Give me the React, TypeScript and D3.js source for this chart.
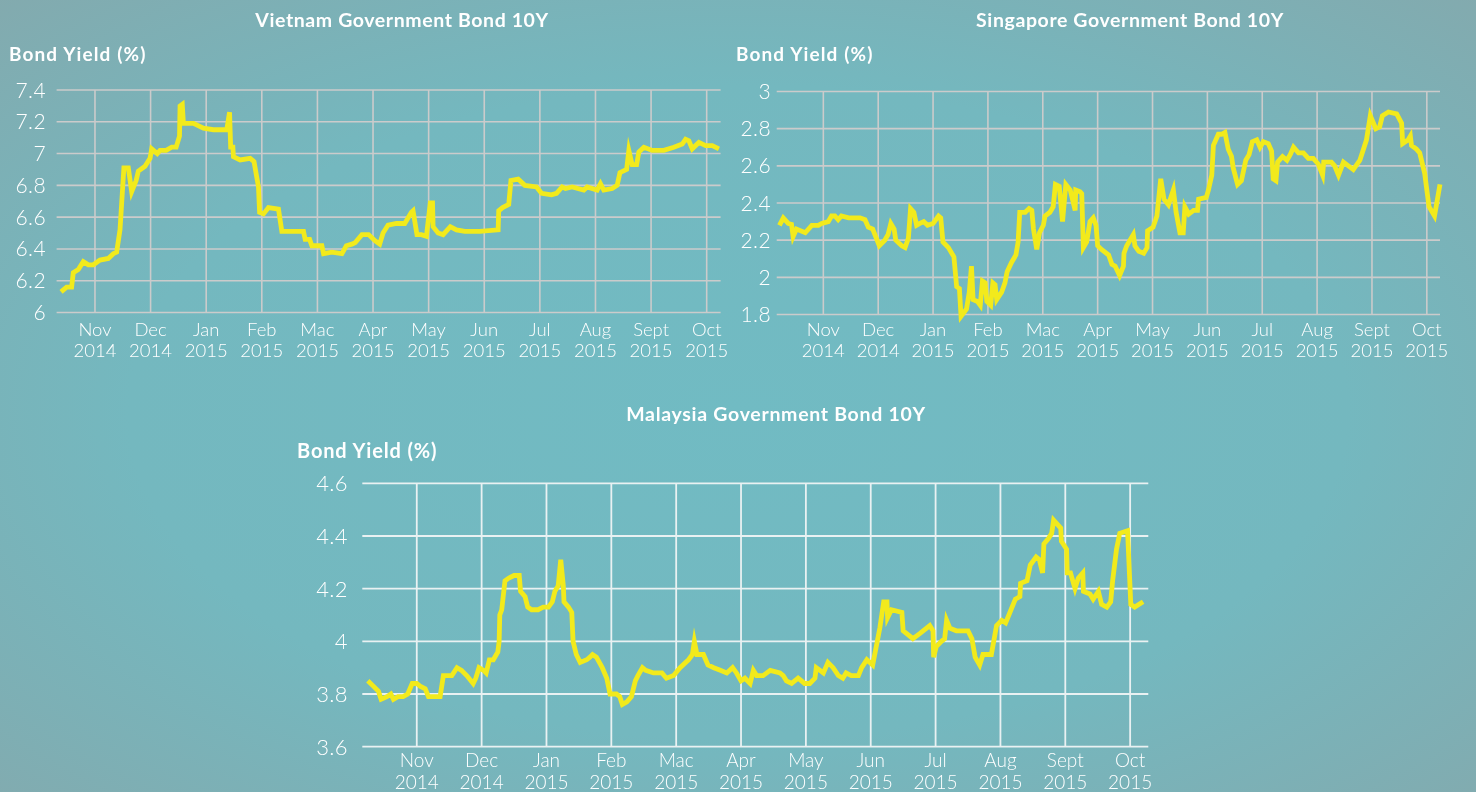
import React from "react";
import * as d3 from "d3";

// t = months since 1 Nov 2014 (Nov 2014 = 0, Dec 2014 = 1, ... Oct 2015 = 11)
const monthLabels = ["Nov", "Dec", "Jan", "Feb", "Mac", "Apr", "May", "Jun", "Jul", "Aug", "Sept", "Oct"];
const yearLabels = ["2014", "2014", "2015", "2015", "2015", "2015", "2015", "2015", "2015", "2015", "2015", "2015"];

const vietnamTicks = [6, 6.2, 6.4, 6.6, 6.8, 7, 7.2, 7.4];
const singaporeTicks = [1.8, 2, 2.2, 2.4, 2.6, 2.8, 3];
const malaysiaTicks = [3.6, 3.8, 4, 4.2, 4.4, 4.6];

const vietnamSeries: [number, number][] = [
  [-0.61, 6.13], [-0.51, 6.16], [-0.42, 6.16], [-0.39, 6.25], [-0.3, 6.27], [-0.21, 6.32], [-0.12, 6.3],
  [-0.03, 6.3], [0.09, 6.33], [0.24, 6.34], [0.33, 6.37], [0.39, 6.38], [0.45, 6.52], [0.52, 6.91],
  [0.6, 6.91], [0.66, 6.76], [0.74, 6.83], [0.78, 6.89], [0.9, 6.92], [0.99, 6.97], [1.02, 7.03],
  [1.12, 7.0], [1.17, 7.02], [1.28, 7.02], [1.38, 7.04], [1.46, 7.04], [1.52, 7.11], [1.53, 7.3],
  [1.57, 7.31], [1.59, 7.19], [1.77, 7.19], [1.95, 7.16], [2.13, 7.15], [2.37, 7.15], [2.42, 7.26],
  [2.44, 7.04], [2.48, 7.04], [2.49, 6.98], [2.61, 6.96], [2.79, 6.97], [2.86, 6.95], [2.94, 6.79],
  [2.96, 6.63], [3.03, 6.62], [3.12, 6.66], [3.3, 6.65], [3.36, 6.51], [3.75, 6.51], [3.78, 6.46],
  [3.86, 6.46], [3.9, 6.42], [4.08, 6.42], [4.11, 6.37], [4.26, 6.38], [4.44, 6.37], [4.52, 6.42],
  [4.62, 6.43], [4.68, 6.44], [4.8, 6.49], [4.92, 6.49], [5.04, 6.45], [5.12, 6.43], [5.18, 6.5],
  [5.27, 6.55], [5.42, 6.56], [5.57, 6.56], [5.69, 6.63], [5.72, 6.64], [5.79, 6.49], [5.87, 6.49],
  [5.96, 6.48], [6.03, 6.69], [6.07, 6.69], [6.08, 6.54], [6.17, 6.5], [6.26, 6.49], [6.39, 6.54],
  [6.5, 6.52], [6.65, 6.51], [6.92, 6.51], [7.25, 6.52], [7.26, 6.64], [7.33, 6.66], [7.44, 6.68],
  [7.48, 6.83], [7.61, 6.84], [7.73, 6.8], [7.94, 6.79], [8.03, 6.75], [8.21, 6.74], [8.3, 6.75],
  [8.4, 6.79], [8.46, 6.78], [8.58, 6.79], [8.79, 6.77], [8.85, 6.79], [9.03, 6.77], [9.09, 6.81],
  [9.15, 6.77], [9.3, 6.78], [9.39, 6.8], [9.44, 6.88], [9.56, 6.9], [9.6, 7.02], [9.66, 6.93],
  [9.74, 6.93], [9.78, 7.01], [9.87, 7.04], [10.02, 7.02], [10.23, 7.02], [10.41, 7.04], [10.56, 7.06],
  [10.62, 7.09], [10.68, 7.08], [10.74, 7.03], [10.86, 7.07], [10.98, 7.05], [11.1, 7.05], [11.22, 7.03],
];

const singaporeSeries: [number, number][] = [
  [-0.8, 2.28], [-0.73, 2.32], [-0.64, 2.29], [-0.58, 2.285], [-0.55, 2.22], [-0.49, 2.26], [-0.33, 2.24],
  [-0.21, 2.28], [-0.09, 2.28], [-0.03, 2.29], [0.09, 2.3], [0.15, 2.33], [0.21, 2.33], [0.27, 2.31],
  [0.33, 2.33], [0.46, 2.32], [0.67, 2.32], [0.76, 2.31], [0.82, 2.27], [0.9, 2.26], [1.02, 2.17],
  [1.12, 2.2], [1.18, 2.23], [1.23, 2.29], [1.29, 2.26], [1.32, 2.2], [1.43, 2.17], [1.49, 2.16],
  [1.55, 2.21], [1.59, 2.37], [1.65, 2.35], [1.7, 2.28], [1.76, 2.29], [1.83, 2.3], [1.9, 2.28],
  [2.0, 2.29], [2.1, 2.33], [2.14, 2.32], [2.18, 2.19], [2.28, 2.16], [2.38, 2.11], [2.43, 1.95],
  [2.48, 1.94], [2.51, 1.79], [2.61, 1.83], [2.66, 1.92], [2.7, 2.06], [2.73, 1.88], [2.81, 1.87],
  [2.86, 1.85], [2.9, 1.98], [2.95, 1.97], [2.98, 1.87], [3.05, 1.85], [3.09, 1.97], [3.13, 1.96],
  [3.16, 1.88], [3.25, 1.92], [3.31, 1.97], [3.35, 2.03], [3.43, 2.08], [3.51, 2.12], [3.55, 2.19],
  [3.58, 2.35], [3.68, 2.35], [3.75, 2.37], [3.8, 2.36], [3.83, 2.26], [3.89, 2.15], [3.94, 2.24],
  [4.01, 2.28], [4.04, 2.33], [4.13, 2.35], [4.19, 2.38], [4.23, 2.5], [4.3, 2.49], [4.36, 2.3],
  [4.42, 2.5], [4.5, 2.47], [4.59, 2.36], [4.6, 2.47], [4.68, 2.46], [4.71, 2.45], [4.74, 2.16],
  [4.8, 2.19], [4.86, 2.3], [4.92, 2.32], [4.97, 2.28], [5.0, 2.17], [5.07, 2.15], [5.2, 2.12],
  [5.26, 2.07], [5.32, 2.06], [5.4, 2.01], [5.47, 2.06], [5.48, 2.13], [5.53, 2.17], [5.65, 2.23],
  [5.68, 2.17], [5.75, 2.14], [5.84, 2.13], [5.9, 2.16], [5.91, 2.25], [6.01, 2.27], [6.08, 2.33],
  [6.15, 2.53], [6.21, 2.42], [6.29, 2.39], [6.38, 2.47], [6.43, 2.35], [6.5, 2.24], [6.56, 2.24],
  [6.59, 2.38], [6.66, 2.34], [6.75, 2.36], [6.82, 2.36], [6.84, 2.42], [6.98, 2.43], [7.02, 2.47],
  [7.08, 2.55], [7.11, 2.71], [7.2, 2.77], [7.26, 2.77], [7.32, 2.78], [7.38, 2.69], [7.44, 2.65],
  [7.47, 2.59], [7.55, 2.5], [7.62, 2.52], [7.7, 2.63], [7.76, 2.66], [7.82, 2.73], [7.9, 2.74],
  [7.96, 2.7], [8.02, 2.73], [8.11, 2.72], [8.17, 2.68], [8.2, 2.53], [8.25, 2.52], [8.28, 2.62],
  [8.37, 2.65], [8.45, 2.63], [8.51, 2.66], [8.57, 2.7], [8.66, 2.67], [8.75, 2.67], [8.84, 2.64],
  [8.93, 2.64], [9.02, 2.61], [9.1, 2.55], [9.12, 2.62], [9.26, 2.62], [9.32, 2.6], [9.39, 2.55],
  [9.48, 2.62], [9.57, 2.6], [9.66, 2.58], [9.78, 2.63], [9.9, 2.74], [9.97, 2.87], [10.07, 2.8],
  [10.14, 2.81], [10.19, 2.87], [10.3, 2.89], [10.45, 2.88], [10.54, 2.83], [10.56, 2.72], [10.66, 2.74],
  [10.7, 2.76], [10.72, 2.71], [10.81, 2.69], [10.87, 2.67], [10.96, 2.56], [11.04, 2.38], [11.14, 2.33],
  [11.24, 2.5],
];

const malaysiaSeries: [number, number][] = [
  [-0.755, 3.85], [-0.67, 3.83], [-0.59, 3.81], [-0.55, 3.78], [-0.46, 3.79], [-0.4, 3.8], [-0.36, 3.78],
  [-0.29, 3.79], [-0.21, 3.79], [-0.14, 3.8], [-0.07, 3.84], [0.0, 3.84], [0.05, 3.83], [0.13, 3.82],
  [0.18, 3.79], [0.28, 3.79], [0.36, 3.79], [0.41, 3.87], [0.49, 3.87], [0.54, 3.87], [0.62, 3.9],
  [0.69, 3.89], [0.77, 3.87], [0.87, 3.84], [0.91, 3.86], [0.96, 3.9], [1.03, 3.89], [1.07, 3.88],
  [1.12, 3.93], [1.18, 3.93], [1.25, 3.96], [1.27, 4.0], [1.28, 4.1], [1.31, 4.12], [1.36, 4.23],
  [1.42, 4.24], [1.5, 4.25], [1.58, 4.25], [1.6, 4.19], [1.67, 4.17], [1.71, 4.13], [1.77, 4.12],
  [1.87, 4.12], [1.95, 4.13], [2.03, 4.13], [2.09, 4.15], [2.13, 4.19], [2.18, 4.21], [2.22, 4.31],
  [2.26, 4.21], [2.27, 4.15], [2.34, 4.13], [2.39, 4.11], [2.41, 4.0], [2.46, 3.95], [2.52, 3.92],
  [2.62, 3.93], [2.67, 3.94], [2.71, 3.95], [2.77, 3.94], [2.86, 3.9], [2.93, 3.86], [2.98, 3.8],
  [3.08, 3.8], [3.13, 3.79], [3.17, 3.76], [3.24, 3.77], [3.31, 3.79], [3.37, 3.85], [3.41, 3.87],
  [3.48, 3.9], [3.53, 3.89], [3.65, 3.88], [3.78, 3.88], [3.85, 3.86], [3.96, 3.87], [4.06, 3.9],
  [4.19, 3.93], [4.25, 3.95], [4.28, 4.0], [4.32, 3.95], [4.42, 3.95], [4.49, 3.91], [4.58, 3.9],
  [4.68, 3.89], [4.78, 3.88], [4.87, 3.9], [4.93, 3.88], [5.0, 3.85], [5.06, 3.86], [5.14, 3.84],
  [5.19, 3.89], [5.24, 3.87], [5.34, 3.87], [5.45, 3.89], [5.6, 3.88], [5.65, 3.87], [5.7, 3.85],
  [5.78, 3.84], [5.88, 3.86], [5.98, 3.84], [6.06, 3.84], [6.14, 3.86], [6.16, 3.9], [6.27, 3.88],
  [6.34, 3.92], [6.42, 3.9], [6.5, 3.87], [6.57, 3.86], [6.62, 3.88], [6.7, 3.87], [6.81, 3.87],
  [6.86, 3.9], [6.94, 3.93], [7.03, 3.91], [7.14, 4.05], [7.2, 4.15], [7.25, 4.15], [7.26, 4.09],
  [7.32, 4.12], [7.48, 4.11], [7.5, 4.04], [7.55, 4.03], [7.65, 4.01], [7.76, 4.03], [7.91, 4.06],
  [7.96, 4.04], [7.97, 3.94], [8.01, 3.98], [8.09, 4.0], [8.14, 4.01], [8.17, 4.08], [8.22, 4.05],
  [8.32, 4.04], [8.5, 4.04], [8.56, 4.01], [8.61, 3.94], [8.68, 3.91], [8.73, 3.95], [8.86, 3.95],
  [8.94, 4.06], [9.02, 4.08], [9.08, 4.07], [9.13, 4.1], [9.23, 4.16], [9.3, 4.17], [9.31, 4.22],
  [9.41, 4.23], [9.46, 4.29], [9.55, 4.32], [9.6, 4.31], [9.65, 4.26], [9.67, 4.37], [9.74, 4.39],
  [9.79, 4.41], [9.82, 4.46], [9.93, 4.43], [9.94, 4.38], [10.02, 4.35], [10.03, 4.26], [10.08, 4.26],
  [10.15, 4.2], [10.2, 4.24], [10.27, 4.26], [10.28, 4.19], [10.38, 4.18], [10.43, 4.16], [10.51, 4.19],
  [10.56, 4.14], [10.64, 4.13], [10.7, 4.15], [10.73, 4.23], [10.79, 4.35], [10.84, 4.41], [10.96, 4.42],
  [11.01, 4.14], [11.07, 4.13], [11.2, 4.15],
];

const FONT = "Lato, 'Open Sans', sans-serif";
const LINE_COLOR = "#f2ea1c";

type ChartProps = {
  title: string;
  titleX: number;
  titleY: number;
  titleSize: number;
  titleSpacing: number;
  labelX: number;
  labelY: number;
  labelSize: number;
  labelSpacing: number;
  left: number;
  right: number;
  top: number;
  bottom: number;
  tDomain: [number, number];
  yTicks: number[];
  series: [number, number][];
  tickRight: number;
  tickSize: number;
  monthY: number;
  yearY: number;
  xLabelSize: number;
  gridColor: string;
  gridWidth: number;
};

function Chart(p: ChartProps) {
  const x = d3.scaleLinear().domain(p.tDomain).range([p.left, p.right]);
  const y = d3
    .scaleLinear()
    .domain([p.yTicks[0], p.yTicks[p.yTicks.length - 1]])
    .range([p.bottom, p.top]);
  const line = d3
    .line<[number, number]>()
    .x((d) => x(d[0]))
    .y((d) => y(d[1]))
    .curve(d3.curveLinear);
  const months = monthLabels.map((_, i) => i);
  const fmt = (v: number) => String(+v.toFixed(1));
  return (
    <g fontFamily={FONT} fill="#fff">
      <text
        x={p.titleX}
        y={p.titleY}
        textAnchor="middle"
        fontSize={p.titleSize}
        fontWeight={700}
        letterSpacing={p.titleSpacing}
      >
        {p.title}
      </text>
      <text
        x={p.labelX}
        y={p.labelY}
        fontSize={p.labelSize}
        fontWeight={700}
        letterSpacing={p.labelSpacing}
      >
        Bond Yield (%)
      </text>
      {p.yTicks.map((v) => (
        <line
          key={"h" + v}
          x1={p.left}
          x2={p.right}
          y1={y(v)}
          y2={y(v)}
          stroke={p.gridColor}
          strokeWidth={p.gridWidth}
        />
      ))}
      {months.map((m) => (
        <line
          key={"v" + m}
          x1={x(m)}
          x2={x(m)}
          y1={p.top}
          y2={p.bottom}
          stroke={p.gridColor}
          strokeWidth={p.gridWidth}
        />
      ))}
      {p.yTicks.map((v) => (
        <text
          key={"t" + v}
          x={p.tickRight}
          y={y(v)}
          dy="0.36em"
          textAnchor="end"
          fontSize={p.tickSize}
          fontWeight={300}
          letterSpacing={0.4}
        >
          {fmt(v)}
        </text>
      ))}
      {months.map((m) => (
        <g key={"l" + m} fontSize={p.xLabelSize} fontWeight={300} textAnchor="middle">
          <text x={x(m)} y={p.monthY}>
            {monthLabels[m]}
          </text>
          <text x={x(m)} y={p.yearY}>
            {yearLabels[m]}
          </text>
        </g>
      ))}
      <path
        d={line(p.series) || ""}
        fill="none"
        stroke={LINE_COLOR}
        strokeWidth={4.8}
        strokeLinejoin="miter"
        strokeMiterlimit={6}
      />
    </g>
  );
}

export default function App() {
  const W = 1476;
  const H = 792;
  return (
    <svg
      width={W}
      height={H}
      style={{ position: "fixed", left: 0, top: 0, display: "block" }}
    >
      <defs>
        <radialGradient id="bg" cx="0.5" cy="0.52" r="0.75" gradientUnits="objectBoundingBox">
          <stop offset="0" stopColor="#71bbc3" />
          <stop offset="0.55" stopColor="#74b8bf" />
          <stop offset="1" stopColor="#84a9ad" />
        </radialGradient>
      </defs>
      <rect x={0} y={0} width={W} height={H} fill="url(#bg)" />
      <Chart
        title="Vietnam Government Bond 10Y"
        titleX={402}
        titleY={26.5}
        titleSize={19.5}
        titleSpacing={0.6}
        labelX={9}
        labelY={61}
        labelSize={19}
        labelSpacing={1.1}
        left={56.6}
        right={720.6}
        top={90}
        bottom={312.5}
        tDomain={[-0.69, 11.25]}
        yTicks={vietnamTicks}
        series={vietnamSeries}
        tickRight={46}
        tickSize={21}
        monthY={336}
        yearY={357}
        xLabelSize={18.5}
        gridColor="#cbcbcb"
        gridWidth={1.6}
      />
      <Chart
        title="Singapore Government Bond 10Y"
        titleX={1130}
        titleY={26.5}
        titleSize={19.5}
        titleSpacing={0.6}
        labelX={736}
        labelY={61}
        labelSize={19}
        labelSpacing={1.1}
        left={776.7}
        right={1440}
        top={91.5}
        bottom={314.5}
        tDomain={[-0.85, 11.24]}
        yTicks={singaporeTicks}
        series={singaporeSeries}
        tickRight={771}
        tickSize={21}
        monthY={336}
        yearY={357}
        xLabelSize={18.5}
        gridColor="#cbcbcb"
        gridWidth={1.6}
      />
      <Chart
        title="Malaysia Government Bond 10Y"
        titleX={776}
        titleY={421}
        titleSize={19.5}
        titleSpacing={0.7}
        labelX={297}
        labelY={458}
        labelSize={20}
        labelSpacing={0.85}
        left={362.3}
        right={1148.3}
        top={483.3}
        bottom={746.7}
        tDomain={[-0.84, 11.28]}
        yTicks={malaysiaTicks}
        series={malaysiaSeries}
        tickRight={348}
        tickSize={22}
        monthY={767}
        yearY={789}
        xLabelSize={19}
        gridColor="#e9f1f2"
        gridWidth={1.8}
      />
    </svg>
  );
}
